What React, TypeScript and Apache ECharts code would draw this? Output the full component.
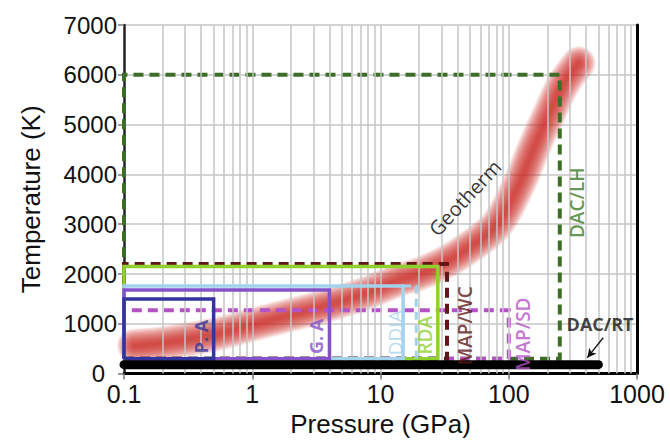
import React, { useEffect, useRef } from "react";
import * as echarts from "echarts";

// Pressure axis (GPa, log) and temperature axis (K)
const pressureMin = 0.1;
const pressureMax = 1000;
const temperatureMin = 0;
const temperatureMax = 7000;
const temperatureStep = 1000;

// Apparatus P–T envelopes (drawn from the widest to the smallest)
const apparatusNames = ["DAC/LH", "MAP/SD", "MAP/WC", "RDA", "DDIA", "G. A", "P. A"];
const apparatusPMax = [250, 100, 33, 28, 15, 4, 0.5];
const apparatusTMax = [6000, 1270, 2200, 2150, 1760, 1680, 1500];
const apparatusTMin = [300, 300, 300, 300, 300, 300, 300];

// DDIA extended reach (dashed)
const ddiaExtendedPMax = 19;

// DAC at room temperature
const dacRtPMax = 500;
const dacRtT = 180;

// Geotherm: pressure (GPa) and temperature (K)
const geothermP = [0.12, 0.2, 0.5, 1, 2, 4, 8, 14, 20, 30, 44, 80, 120, 155, 200, 265, 350];
const geothermT = [560, 610, 780, 980, 1180, 1380, 1630, 1880, 2000, 2200, 2450, 2980, 3800, 4500, 5140, 5800, 6230];

// Log-decade multipliers for the minor vertical grid
const minorMultipliers = [1, 2, 3, 4, 5, 6, 7, 8, 9];

const styles: Record<string, { color: string; dashed: boolean }> = {
  "DAC/LH": { color: "#3d6e27", dashed: true },
  "MAP/SD": { color: "#b452c6", dashed: true },
  "MAP/WC": { color: "#5e1818", dashed: true },
  RDA: { color: "#8fd12c", dashed: false },
  DDIA: { color: "#a3d3ec", dashed: false },
  "G. A": { color: "#8352c8", dashed: false },
  "P. A": { color: "#34349e", dashed: false },
};

// Text annotations: anchor in (GPa, K), rotation in degrees
const annotations: {
  text: string;
  at: [number, number];
  rotate: number;
  color: string;
  size: number;
  weight: string | number;
}[] = [
  { text: "P. A", at: [0.4, 745], rotate: 90, color: "#34349e", size: 18, weight: "bold" },
  { text: "G. A", at: [3.15, 745], rotate: 90, color: "#8352c8", size: 18, weight: "bold" },
  { text: "DDIA", at: [13, 820], rotate: 90, color: "#a3d3ec", size: 19, weight: "normal" },
  { text: "RDA", at: [22.3, 770], rotate: 90, color: "#8fd12c", size: 19, weight: 600 },
  { text: "MAP/WC", at: [45.5, 960], rotate: 90, color: "#5e1818", size: 19, weight: 600 },
  { text: "MAP/SD", at: [129, 790], rotate: 90, color: "#b452c6", size: 19, weight: 600 },
  { text: "DAC/LH", at: [340, 3430], rotate: 90, color: "#3d7a28", size: 19, weight: 600 },
  { text: "DAC/RT", at: [515, 1000], rotate: 0, color: "#111", size: 18, weight: "bold" },
  { text: "Geotherm", at: [45.5, 3530], rotate: 47, color: "#000", size: 20, weight: "normal" },
];

// Arrow from the DAC/RT label to its bar
const arrowFrom: [number, number] = [545, 720];
const arrowTo: [number, number] = [410, 320];

const labelFont = "'Open Sans', 'Noto Sans', sans-serif";
const axisFont = "'Liberation Sans', Arial, sans-serif";

function buildOption(): echarts.EChartsCoreOption {
  const geotherm = geothermP.map((p, i) => [p, geothermT[i]]);

  // soft, blurred band built from many stacked translucent strokes
  const glowLayers: { w: number; a: number }[] = [];
  for (let w = 34; w >= 4; w -= 2.5) glowLayers.push({ w, a: 0.115 });
  const geothermSeries = glowLayers.map((l) => ({
    type: "line",
    data: geotherm,
    smooth: 0.35,
    showSymbol: false,
    symbol: "none",
    silent: true,
    z: 2,
    lineStyle: { width: l.w, color: `rgba(204,36,28,${l.a})`, cap: "round", join: "round" },
  }));

  const boxSeries = apparatusNames.map((name, i) => {
    const p = apparatusPMax[i];
    const t0 = apparatusTMin[i];
    const t1 = apparatusTMax[i];
    const st = styles[name];
    return {
      type: "line",
      name,
      data: [
        [pressureMin, t0],
        [p, t0],
        [p, t1],
        [pressureMin, t1],
        [pressureMin, t0],
      ],
      showSymbol: false,
      symbol: "none",
      silent: true,
      clip: false,
      z: 3 + i,
      lineStyle: {
        width: st.dashed ? 4 : 3.5,
        color: st.color,
        type: st.dashed ? [10, 6] : "solid",
        join: "miter",
      },
    };
  });

  const ddiaIdx = apparatusNames.indexOf("DDIA");
  const ddiaExt = {
    type: "line",
    data: [
      [apparatusPMax[ddiaIdx], apparatusTMax[ddiaIdx]],
      [ddiaExtendedPMax, apparatusTMax[ddiaIdx]],
      [ddiaExtendedPMax, apparatusTMin[ddiaIdx]],
    ],
    showSymbol: false,
    symbol: "none",
    silent: true,
    z: 7,
    lineStyle: { width: 3, color: styles.DDIA.color, type: [8, 5] },
  };

  const dacRt = {
    type: "line",
    data: [
      [pressureMin, dacRtT],
      [dacRtPMax, dacRtT],
    ],
    showSymbol: false,
    symbol: "none",
    silent: true,
    z: 12,
    lineStyle: { width: 9, color: "#000", cap: "round" },
  };

  // minor vertical grid at every 1..9 × 10^k
  const gridValues: number[] = [];
  for (let e = Math.log10(pressureMin); e < Math.log10(pressureMax); e++) {
    minorMultipliers.forEach((m) => {
      const v = +(m * Math.pow(10, e)).toPrecision(3);
      if (v > pressureMin && v < pressureMax) gridValues.push(v);
    });
  }
  const gridSeries = {
    type: "line",
    data: [],
    silent: true,
    z: 1,
    markLine: {
      silent: true,
      symbol: ["none", "none"],
      label: { show: false },
      animation: false,
      lineStyle: { color: "#c6c6c6", width: 1.5, type: "solid" },
      data: gridValues.map((v) => ({ xAxis: v })),
    },
  };

  const arrowSeries = {
    type: "line",
    data: [],
    silent: true,
    z: 13,
    markLine: {
      silent: true,
      symbol: ["none", "arrow"],
      symbolSize: [7, 9],
      label: { show: false },
      animation: false,
      lineStyle: { color: "#111", width: 1.3, type: "solid" },
      data: [[{ coord: arrowFrom }, { coord: arrowTo }]],
    },
  };

  const labelSeries = {
    type: "scatter",
    silent: true,
    z: 20,
    symbolSize: 0,
    data: annotations.map((a) => ({
      value: a.at,
      label: {
        show: true,
        position: "inside",
        formatter: a.text,
        rotate: a.rotate,
        color: a.color,
        fontSize: a.size,
        fontWeight: a.weight,
        fontFamily: labelFont,
        align: "center",
        verticalAlign: "middle",
      },
    })),
  };

  return {
    animation: false,
    backgroundColor: "#fff",
    grid: { left: 124, right: 33, top: 25, bottom: 60, containLabel: false },
    xAxis: [
      {
        type: "log",
        logBase: 10,
        min: pressureMin,
        max: pressureMax,
        name: "Pressure (GPa)",
        nameLocation: "middle",
        nameGap: 35,
        nameTextStyle: { fontSize: 26, color: "#111", fontFamily: axisFont },
        axisLine: { show: true, onZero: false, lineStyle: { color: "#555", width: 2.5 } },
        axisTick: { show: true, length: 6, lineStyle: { color: "#777", width: 1.5 } },
        axisLabel: {
          fontSize: 25,
          lineHeight: 18,
          color: "#111",
          fontFamily: axisFont,
          margin: 11,
          formatter: (v: number) => String(+v.toPrecision(3)),
        },
        splitLine: { show: false },
      },
      {
        type: "log",
        logBase: 10,
        min: pressureMin,
        max: pressureMax,
        position: "top",
        axisLine: { show: true, lineStyle: { color: "#000", width: 3 } },
        axisTick: { show: false },
        axisLabel: { show: false },
        splitLine: { show: false },
      },
    ],
    yAxis: [
      {
        type: "value",
        min: temperatureMin,
        max: temperatureMax,
        interval: temperatureStep,
        name: "Temperature (K)",
        nameLocation: "middle",
        nameGap: 80,
        nameTextStyle: { fontSize: 26, color: "#111", fontFamily: axisFont },
        axisLine: { show: true, lineStyle: { color: "#222", width: 2.5 } },
        axisTick: { show: true, length: 6, lineStyle: { color: "#777", width: 1.5 } },
        axisLabel: {
          fontSize: 24,
          lineHeight: 18,
          color: "#111",
          fontFamily: axisFont,
          margin: 7,
          // the zero label sits a little left of the column, clear of "0.1"
          formatter: (v: number) => (v === 0 ? "{zero|0}" : String(v)),
          rich: {
            zero: {
              fontSize: 24,
              lineHeight: 18,
              color: "#111",
              fontFamily: axisFont,
              padding: [0, 12, 0, 0],
            },
          },
        },
        splitLine: { show: true, lineStyle: { color: "#c6c6c6", width: 1.5 } },
      },
      {
        type: "value",
        min: temperatureMin,
        max: temperatureMax,
        interval: temperatureStep,
        position: "right",
        axisLine: { show: true, lineStyle: { color: "#000", width: 3 } },
        axisTick: { show: false },
        axisLabel: { show: false },
        splitLine: { show: false },
      },
    ],
    series: [gridSeries, ...geothermSeries, ...boxSeries, ddiaExt, dacRt, arrowSeries, labelSeries],
  };
}

export default function App() {
  const ref = useRef<HTMLDivElement>(null);
  useEffect(() => {
    if (!ref.current) return;
    const chart = echarts.init(ref.current, undefined, { renderer: "svg" });
    chart.setOption(buildOption());
    return () => chart.dispose();
  }, []);
  return (
    <div
      ref={ref}
      style={{ position: "absolute", left: 0, top: 0, width: 670, height: 442, background: "#fff" }}
    />
  );
}
